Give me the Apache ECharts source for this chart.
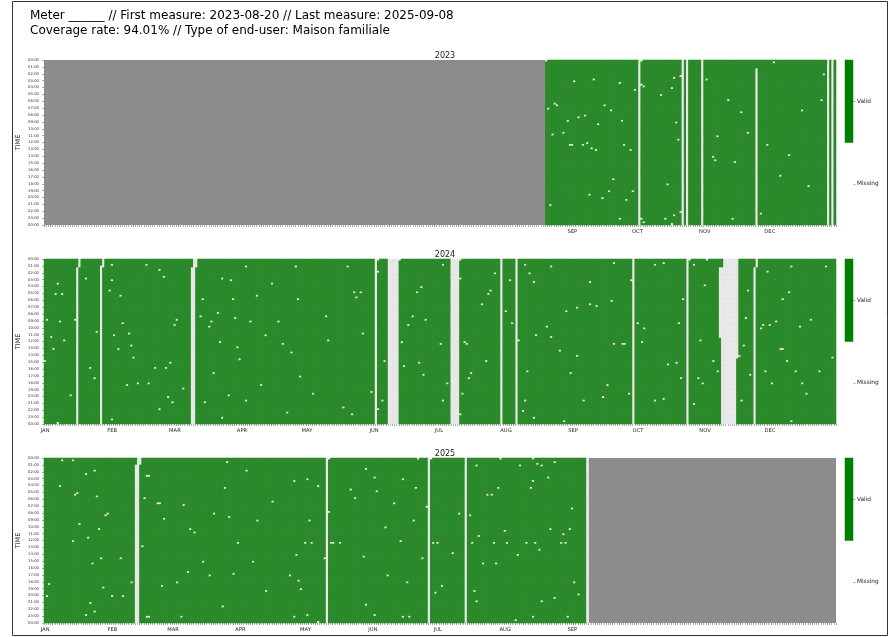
<!DOCTYPE html>
<html>
<head>
<meta charset="utf-8">
<script src="https://cdn.jsdelivr.net/npm/echarts@6/dist/echarts.min.js"></script>
<style>
  html, body { margin: 0; padding: 0; background: #fff; }
  #chart { width: 891px; height: 637px; }
</style>
</head>
<body>
<div id="chart"></div>
<script>
// --- data ---
const YEARS = [2023, 2024, 2025];
const DAYS_IN_YEAR = [365, 366, 365];
const MONTHS = ["JAN", "FEB", "MAR", "APR", "MAY", "JUN", "JUL", "AUG", "SEP", "OCT", "NOV", "DEC"];
const MONTH_START = [0, 31, 59, 90, 120, 151, 181, 212, 243, 273, 304, 334];
const MONTH_START_LEAP = [0, 31, 60, 91, 121, 152, 182, 213, 244, 274, 305, 335];
const FIRST_DAY = [231, 0, 0];     // 2023-08-20
const LAST_DAY = [364, 365, 250];  // 2025-09-08
const SLOTS_PER_DAY = 96;          // 15 min slots
const STATUS = ["Missing", "Valid"];

// missing spans: [startDay, startSlot, endDay, endSlot]
const gaps2023 = [[274, 0, 274, 95], [294, 0, 294, 95], [296, 0, 296, 95], [303, 0, 303, 95],
  [328, 5, 328, 95], [361, 0, 361, 95], [363, 0, 363, 95]];
const gaps2024 = [[15, 5, 16, 4], [26, 4, 27, 4], [68, 5, 70, 4], [153, 0, 153, 95], [159, 0, 163, 95],
  [188, 0, 191, 95], [211, 0, 211, 95], [218, 0, 218, 95], [272, 0, 272, 95], [297, 0, 297, 95],
  [312, 5, 312, 45], [313, 5, 320, 57], [328, 5, 329, 4]];
const gaps2025 = [[42, 4, 44, 3], [130, 0, 130, 95], [177, 0, 177, 95], [194, 0, 194, 95], [250, 0, 250, 95]];

// single missing slots: [day, slot]
const dots2023 = [[231,0],[275,0],[244,12],[253,11],[265,13],[272,17],[275,14],[276,15],[290,10],[289,16],[284,20],[293,9],
  [235,25],[236,26],[232,28],[258,26],[261,29],[249,32],[246,33],[241,35],[255,37],[266,35],[291,36],[234,43],[239,42],
  [242,49],[243,49],[248,49],[250,48],[252,51],[254,52],[267,49],[270,52],[292,46],[262,69],[260,76],[251,78],[257,80],
  [271,76],[268,81],[287,72],[233,84],[265,92],[275,92],[276,94],[286,92],[290,90],[293,88],[289,95],[305,11],[321,30],
  [310,44],[308,56],[309,58],[318,59],[324,42],[315,23],[336,1],[349,29],[352,73],[343,55],[333,49],[358,23],[359,8],
  [339,67],[330,89],[317,92]];
const dots2024 = [[31,3],[47,3],[53,6],[55,10],[19,11],[31,12],[6,14],[5,20],[8,20],[30,18],[35,21],[1,35],[7,36],[14,35],
  [36,37],[61,35],[60,38],[24,42],[3,45],[9,47],[32,44],[39,43],[4,52],[34,52],[40,50],[0,59],[41,57],[21,63],[23,69],
  [51,63],[56,63],[58,60],[38,73],[43,72],[48,72],[64,75],[12,79],[57,80],[59,83],[53,87],[31,93],[6,95],
  [73,23],[72,33],[77,36],[76,39],[80,31],[82,11],[86,12],[87,23],[88,34],[81,48],[89,51],[78,66],[85,79],[74,83],[82,92],
  [93,4],[98,21],[105,14],[117,23],[116,4],[130,33],[140,4],[143,19],[144,22],[95,36],[102,44],[110,49],[93,82],[100,73],
  [114,54],[124,78],[138,86],[142,90],[112,89],[118,68],[131,47],[108,36],[90,58],
  [184,3],[154,7],[146,19],[172,19],[174,16],[170,33],[176,35],[168,38],[147,43],[165,48],[183,49],[157,59],[166,62],
  [173,60],[175,67],[186,72],[151,77],[156,82],[154,87],[184,82],[192,11],[208,8],[215,12],[206,18],[205,20],[202,26],
  [213,30],[216,37],[194,48],[195,49],[219,47],[204,59],[197,66],[196,69],[193,78],[192,90],[222,3],[224,8],[226,13],
  [227,44],[223,65],[222,82],[221,88],[226,92],[154,0],[164,0],[192,0],[298,0],
  [232,39],[241,30],[246,28],[252,26],[255,27],[263,49],[262,24],[234,45],[238,53],[246,56],[260,73],[249,82],[258,80],
  [240,94],[263,2],[234,4],[252,13],[243,66],
  [282,3],[286,2],[300,3],[306,0],[271,12],[295,23],[305,15],[274,37],[277,40],[293,37],[267,49],[268,49],[276,48],
  [303,47],[270,78],[282,82],[286,81],[288,61],[292,60],[294,69],[300,84],[302,69],[304,72],[309,59],[311,65],[325,18],
  [324,34],[323,50],[321,56],[326,67],[322,82],[334,7],[345,4],[361,4],[344,19],[341,23],[332,38],[335,38],[338,36],
  [331,40],[354,35],[349,39],[340,52],[341,52],[364,57],[343,59],[333,65],[347,65],[358,65],[336,72],[350,72],[352,78],
  [345,94]];
const dots2025 = [[8,1],[13,1],[84,2],[19,9],[23,7],[47,10],[48,10],[7,16],[83,17],[14,21],[15,20],[24,22],[46,23],
  [52,26],[53,26],[64,27],[78,32],[28,33],[29,32],[55,35],[85,34],[16,38],[25,41],[67,41],[69,43],[20,46],[13,48],
  [89,49],[45,51],[26,58],[35,58],[73,60],[22,61],[66,66],[76,68],[87,67],[2,73],[40,72],[54,74],[61,72],[27,75],
  [1,80],[31,80],[36,80],[21,84],[82,86],[23,89],[19,91],[47,92],[48,92],[63,92],
  [93,7],[98,36],[102,77],[105,25],[96,60],
  [131,0],[172,0],[178,0],[210,0],[225,0],[199,4],[219,4],[227,3],[229,4],[235,2],[148,6],[115,13],[121,12],[126,16],
  [152,11],[165,12],[171,17],[141,18],[153,19],[143,23],[161,26],[225,13],[224,17],[209,17],[204,21],[206,21],[232,11],
  [176,28],[243,29],[191,32],[196,33],[131,31],[122,36],[170,36],[157,40],[212,42],[233,41],[242,41],[239,44],[200,45],
  [120,49],[123,49],[132,49],[133,49],[136,49],[164,48],[179,49],[181,49],[197,49],[207,49],[213,49],[222,49],[226,49],
  [238,49],[240,49],[228,53],[116,56],[147,57],[129,58],[174,58],[188,55],[218,56],[202,61],[208,61],[113,68],[158,68],
  [117,71],[167,72],[244,72],[118,76],[183,74],[180,78],[198,77],[246,79],[199,83],[229,83],[235,81],[148,85],[152,91],
  [165,92],[168,92],[115,92],[121,91],[126,95],[217,94],[225,92],[241,92]];

const GAPS = [gaps2023, gaps2024, gaps2025];
const DOTS = [dots2023, dots2024, dots2025];

// colours
const VALID = "#2a8a2a";
const MISSING = "#e9e9e9";
const NODATA = "#8c8c8c";

function buildCells(i) {
  const miss = new Set();
  GAPS[i].forEach(([d1, s1, d2, s2]) => {
    for (let k = d1 * SLOTS_PER_DAY + s1; k <= d2 * SLOTS_PER_DAY + s2; k++) miss.add(k);
  });
  DOTS[i].forEach(([d, s]) => miss.add(d * SLOTS_PER_DAY + s));
  const out = [];
  for (let d = FIRST_DAY[i]; d <= LAST_DAY[i]; d++) {
    for (let s = 0; s < SLOTS_PER_DAY; s++) {
      out.push([d, s, miss.has(d * SLOTS_PER_DAY + s) ? 0 : 1]);
    }
  }
  return out;
}

const slotCats = [];
for (let s = 0; s < SLOTS_PER_DAY; s++) slotCats.push(String(s));

const chart = echarts.init(document.getElementById("chart"));
const TOPS = [60, 259, 458];
const grid = [], xAxis = [], yAxis = [], series = [], title = [];

title.push({
  text: "Meter ______ // First measure: 2023-08-20 // Last measure: 2025-09-08\nCoverage rate: 94.01% // Type of end-user: Maison familiale",
  left: 25, top: 3,
  textStyle: { fontSize: 12, fontWeight: "normal", color: "#000", lineHeight: 15.5, fontFamily: "DejaVu Sans" }
});

YEARS.forEach((year, i) => {
  const n = DAYS_IN_YEAR[i];
  const starts = n === 366 ? MONTH_START_LEAP : MONTH_START;
  const days = [];
  for (let d = 0; d < n; d++) days.push(String(d));
  const shown = starts.filter(m => m >= FIRST_DAY[i] && m <= LAST_DAY[i]);

  title.push({
    text: String(year), left: 440, top: TOPS[i] - 13, textAlign: "center",
    textStyle: { fontSize: 8, fontWeight: "normal", color: "#222", fontFamily: "DejaVu Sans" }
  });

  grid.push({ left: 44, top: TOPS[i], width: 792, height: 165, show: true, backgroundColor: NODATA, borderWidth: 0 });
  grid.push({ left: 845, top: TOPS[i], width: 8, height: 165, show: false });

  xAxis.push({
    type: "category", gridIndex: 2 * i, data: days, position: "bottom",
    axisLine: { show: false, onZero: false },
    axisTick: { show: true, interval: 0, length: 2, lineStyle: { color: "#555", width: 0.5 } },
    axisLabel: {
      interval: (idx) => shown.indexOf(idx) >= 0,
      formatter: (v, idx) => MONTHS[starts.indexOf(idx)],
      fontSize: 5.2, margin: 4, color: "#222"
    },
    splitLine: { show: false }
  });
  xAxis.push({ type: "category", gridIndex: 2 * i + 1, data: ["c"], show: false });

  yAxis.push({ type: "category", gridIndex: 2 * i, data: slotCats, inverse: true, show: false });
  yAxis.push({
    type: "value", gridIndex: 2 * i, min: 0, max: 96, interval: 4, inverse: true, position: "left",
    name: "TIME", nameLocation: "middle", nameGap: 22, nameMoveOverlap: false,
    nameTextStyle: { fontSize: 6.5, color: "#222" },
    axisLine: { show: false, onZero: false },
    axisTick: { show: true, length: 2, lineStyle: { color: "#555", width: 0.5 } },
    axisLabel: {
      fontSize: 3.8, margin: 5, color: "#333",
      formatter: v => String((v / 4) % 24).padStart(2, "0") + ":00"
    },
    splitLine: { show: false }
  });
  yAxis.push({
    type: "category", gridIndex: 2 * i + 1, data: STATUS, position: "right",
    axisLine: { show: false },
    axisTick: { show: true, alignWithLabel: true, length: 2.5, lineStyle: { color: "#555", width: 0.5 } },
    axisLabel: { fontSize: 5.8, margin: 4, color: "#222" }
  });

  series.push({
    type: "heatmap", xAxisIndex: 2 * i, yAxisIndex: 3 * i, data: buildCells(i),
    progressive: 0, emphasis: { disabled: true }, silent: true
  });
  series.push({
    type: "heatmap", xAxisIndex: 2 * i + 1, yAxisIndex: 3 * i + 2,
    data: [[0, 0, 3], [0, 1, 2]], emphasis: { disabled: true }, silent: true
  });
});

chart.setOption({
  animation: false,
  textStyle: { fontFamily: "DejaVu Sans" },
  title: title,
  grid: grid,
  xAxis: xAxis,
  yAxis: yAxis,
  visualMap: {
    type: "piecewise", show: false, dimension: 2,
    seriesIndex: [0, 1, 2, 3, 4, 5],
    pieces: [
      { value: 0, color: MISSING },
      { value: 1, color: VALID },
      { value: 2, color: "#008000" },
      { value: 3, color: "#ffffff" }
    ]
  },
  graphic: [{
    type: "rect", shape: { x: 12.5, y: 1.5, width: 875, height: 634 },
    style: { fill: "none", stroke: "#333", lineWidth: 1 }, silent: true
  }],
  series: series
});
</script>
</body>
</html>
